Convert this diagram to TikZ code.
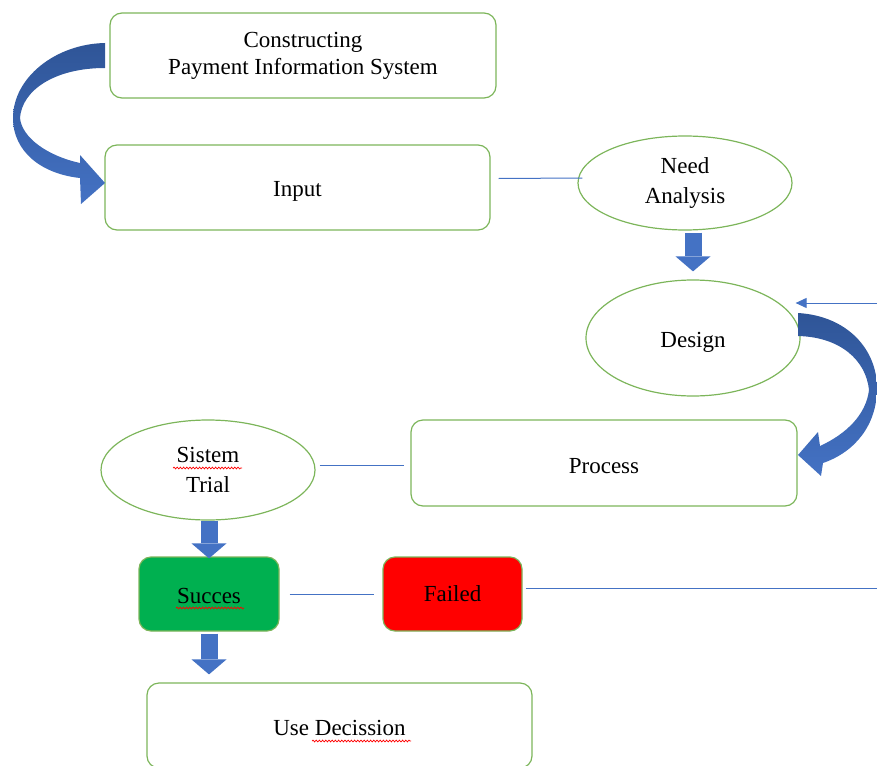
\documentclass[tikz,border=0pt]{standalone}
\usepackage{fontspec}
\setmainfont{Liberation Serif}
\usetikzlibrary{shapes.geometric,arrows.meta,calc,decorations.pathmorphing}
\definecolor{gborder}{HTML}{7CB55A}
\definecolor{bblue}{HTML}{4472C4}
\definecolor{dblue}{HTML}{2F5597}
\definecolor{sgreen}{HTML}{00B050}
\definecolor{fred}{HTML}{FF0000}
\newcommand{\fs}{\fontsize{23}{27}\selectfont}
\newcommand{\lowr}[2]{\raisebox{-#1}[\height][\depth]{#2}}
\begin{document}
\begin{tikzpicture}[x=1pt,y=-1pt,
  box/.style={draw=gborder, line width=1.2pt, rounded corners=12pt, align=center, font=\fs, inner sep=0pt},
  ell/.style={ellipse, draw=gborder, line width=1.2pt, inner sep=0pt, align=center, font=\fontsize{23}{30}\selectfont},
  conn/.style={draw=bblue, line width=1pt},
  blk/.style={draw=bblue, line width=17pt, -{Triangle[width=35pt,length=15pt,line width=0pt]}},
  squig/.style={draw=red, line width=0.7pt, decorate, decoration={snake, amplitude=0.9pt, segment length=3.2pt}}
]
\useasboundingbox (0,0) rectangle (877,765);
\clip (0,0) rectangle (877,765);

% nodes
\node[box, minimum width=386pt, minimum height=85pt] (cons) at (303,55.5) {Constructing\\Payment Information System};
\node[box, minimum width=385pt, minimum height=85pt] (input) at (297.5,187.5) {\lowr{4pt}{Input}};
\node[ell, minimum width=214pt, minimum height=94pt] (na) at (685,183) {Need\\Analysis};
\node[ell, minimum width=214pt, minimum height=116pt] (design) at (693,338) {\lowr{4pt}{Design}};
\node[box, minimum width=386pt, minimum height=86pt] (process) at (604,463) {\lowr{3pt}{Process}};
\node[ell, minimum width=214pt, minimum height=100pt] (trial) at (208,470) {Sistem\\Trial};
\node[box, fill=sgreen, minimum width=140pt, minimum height=74pt] (succ) at (209,594) {\lowr{2pt}{Succes}};
\node[box, fill=fred, minimum width=139pt, minimum height=74pt] (fail) at (452.5,594) {Failed};
\node[box, minimum width=385pt, minimum height=85pt] (use) at (339.5,725.5) {\lowr{2pt}{Use Decission}};

% thin connectors
\draw[conn] ($(input.east)+(8,-9)$) -- ($(na.west)+(5,-5)$);
\draw[conn] ($(trial.east)+(4,-5)$) -- ($(process.west)+(-6,2)$);
\draw[conn] ($(succ.east)+(10,0)$) -- ($(fail.west)+(-8,0)$);
\coordinate (fr) at (877,588);
\draw[conn] ($(fail.east)+(3,-6)$) -- (fr);
\coordinate (dr) at (877,303);
\draw[conn, -{Triangle[length=11pt,width=10pt]}] (dr) -- ($(design.east)+(-5,-35)$);

% block arrows
\draw[blk, shorten <=2pt, shorten >=8pt] (na.south -| design.north) -- (design.north);
\draw[blk, shorten <=0pt, shorten >=-2pt] (trial.south -| succ.north) -- (succ.north);
\draw[blk, shorten <=2pt, shorten >=8pt] (succ.south) -- (succ.south |- use.north);

% curved arrows
\shade[top color=dblue, bottom color=bblue]
  (105,43) .. controls (55,44) and (13,78) .. (13,118)
  .. controls (13,152) and (42,174) .. (80,178)
  -- (81,204) -- (105,183) -- (80,155) -- (80,163)
  .. controls (48,156) and (22,138) .. (20,118)
  .. controls (22,90) and (55,68) .. (105,68) -- cycle;
\shade[top color=dblue, bottom color=bblue]
  (798,313) .. controls (848,316) and (877,350) .. (877,388)
  .. controls (877,425) and (855,452) .. (823,463)
  -- (821,476) -- (798,455) -- (818,432) -- (820,446)
  .. controls (846,434) and (866,415) .. (869,390)
  .. controls (866,360) and (840,337) .. (798,336) -- cycle;

% spell-check squiggles
\draw[squig] (173,468) -- (242,468);
\draw[squig] (176,608) -- (244,608);
\draw[squig] (312,741) -- (411,741);
\end{tikzpicture}
\end{document}
